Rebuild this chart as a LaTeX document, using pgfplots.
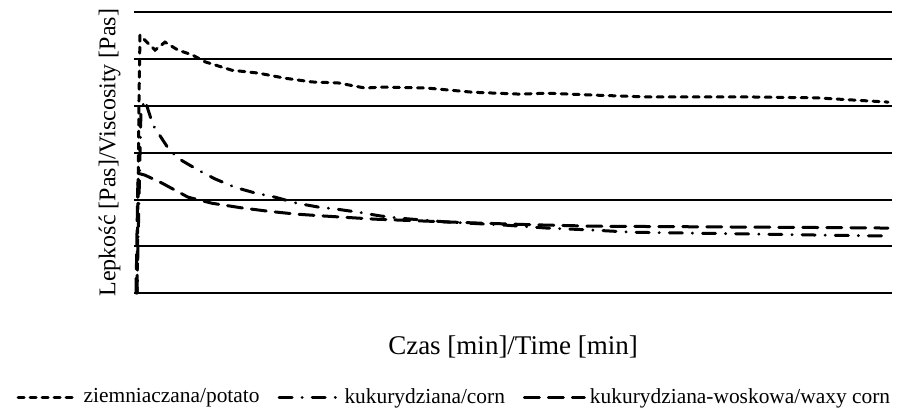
\documentclass[border=0pt]{standalone}
\usepackage{fontspec}
\setmainfont{Liberation Serif}
\usepackage{pgfplots}
\pgfplotsset{compat=1.18}

\begin{document}
\begin{tikzpicture}
	\begin{axis}[
			scale only axis,
			width=379pt,
			height=140.5pt,
			xmin=0, xmax=758,
			ymin=0, ymax=6,
			clip=false,
			axis line style={draw=none},
			xtick=\empty,
			ytick={0,1,...,6},
			yticklabels={},
			major tick length=0pt,
			ymajorgrids,
			grid style={black, line width=1pt},
			xlabel={Czas [min]/Time [min]},
			ylabel={Lepkość [Pas]/Viscosity [Pas]},
			xlabel style={at={(axis description cs:0.5,-0.19)}, anchor=center,
				font=\fontsize{13.5}{16}\selectfont},
			ylabel style={at={(axis description cs:-0.032,0.5)}, anchor=center,
				font=\fontsize{12}{14}\selectfont},
			legend columns=3,
			legend style={at={(axis description cs:0.424,-0.37)}, anchor=center, draw=none,
				fill=none, inner sep=0pt,
				font=\fontsize{10.7}{12}\selectfont,
				nodes={inner sep=2pt},
				/tikz/every odd column/.append style={column sep=0pt},
				/tikz/every even column/.append style={column sep=7pt}},
			legend image code/.code={\draw[#1] (0pt,0pt) -- (30pt,0pt);},
		]

		% ziemniaczana / potato
		\addplot [black, line width=1.5pt, line cap=round, dash pattern=on 3pt off 3pt] table {
		3	0
		4	1.99
		5	4.12
		6	5.51
		13	5.36
		21	5.19
		31	5.36
		44	5.19
		58	5.09
		71	4.94
		98	4.76
		124	4.70
		151	4.59
		178	4.51
		204	4.49
		231	4.38
		248	4.40
		293	4.38
		339	4.29
		386	4.25
		413	4.27
		459	4.23
		513	4.19
		616	4.19
		683	4.17
		754	4.08
		};
		\addlegendentry{ziemniaczana/potato}

		% kukurydziana / corn
		\addplot [black, line width=1.5pt, line cap=round, dash pattern=on 6.5pt off 5pt on 0.1pt off 5pt] table {
		3	0
		5	1.99
		7	3.91
		11	4.12
		19	3.59
		34	3.10
		44	2.88
		64	2.63
		81	2.44
		101	2.26
		121	2.14
		141	2.05
		163	1.92
		184	1.84
		204	1.79
		224	1.73
		246	1.65
		266	1.60
		313	1.52
		373	1.45
		413	1.39
		456	1.35
		499	1.30
		566	1.28
		626	1.26
		686	1.24
		754	1.22
		};
		\addlegendentry{kukurydziana/corn}

		% kukurydziana-woskowa / waxy corn
		\addplot [black, line width=1.5pt, line cap=round, dash pattern=on 7.5pt off 4.5pt] table {
		2	0
		4	2.56
		11	2.52
		28	2.35
		54	2.05
		78	1.92
		108	1.82
		134	1.75
		161	1.69
		188	1.65
		211	1.62
		241	1.58
		290	1.54
		340	1.50
		400	1.46
		460	1.43
		540	1.42
		620	1.41
		700	1.40
		754	1.39
		};
		\addlegendentry{kukurydziana-woskowa/waxy corn}

		% page frame as in the reference
		\path (axis cs:-134,-2.585) rectangle (axis cs:769,6.26);
	\end{axis}
\end{tikzpicture}
\end{document}
